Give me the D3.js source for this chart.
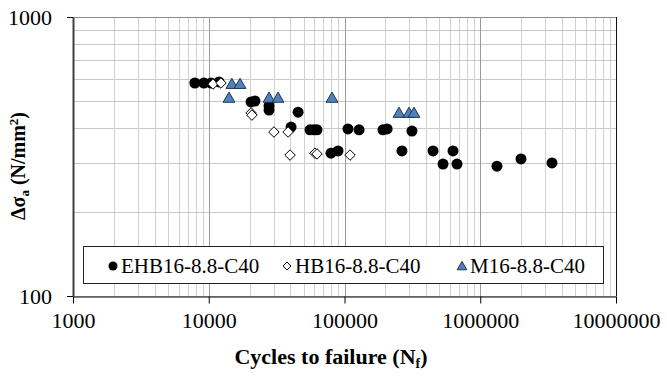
<!DOCTYPE html>
<html>
<head>
<meta charset="utf-8">
<script src="https://cdnjs.cloudflare.com/ajax/libs/d3/7.8.5/d3.min.js"></script>
<style>
  body { margin: 0; background: #fff; }
  svg text { font-family: "Times New Roman", "Liberation Serif", Times, "DejaVu Serif", serif !important; }
</style>
</head>
<body>
<div id="chart"></div>
<script>
// cycles to failure, stress range (N/mm2)
const ehbCycles = [7900, 9200, 10400, 11900, 20500, 21900, 27800, 27800, 45500, 40400,
    55700, 59600, 62700, 79500, 89600, 106000, 128000, 192000, 206000, 314000,
    265000, 449000, 630000, 532000, 674000, 1328000, 1996000, 3377000];
const ehbStress = [580, 580, 580, 585, 496, 500, 480, 464, 456, 403,
    394, 394, 394, 325, 331, 397, 394, 394, 397, 390,
    331, 331, 331, 297, 297, 292, 310, 300];

const hbCycles = [10750, 12300, 20500, 20800, 30200, 38400, 39700, 60600, 62700, 109800];
const hbStress = [575, 580, 453, 445, 387, 387, 320, 325, 323, 320];

const mCycles = [14100, 14800, 17000, 27800, 32400, 80900, 252000, 298700, 325100];
const mStress = [513, 575, 575, 513, 513, 513, 453, 453, 453];

const xTickValues = [1e3, 1e4, 1e5, 1e6, 1e7];
const yTickValues = [100, 1000];
const seriesNames = ['EHB16-8.8-C40', 'HB16-8.8-C40', 'M16-8.8-C40'];

const width = 667, height = 378;
const plotLeft = 73, plotRight = 616, plotTop = 17, plotBottom = 296;

const svg = d3.select('#chart').append('svg')
    .attr('width', width)
    .attr('height', height);

const x = d3.scaleLog().domain([1e3, 1e7]).range([plotLeft, plotRight]);
const y = d3.scaleLog().domain([100, 1000]).range([plotBottom, plotTop]);

// minor vertical grid
const minorX = x.ticks().filter(d => !xTickValues.includes(d));
svg.append('g').selectAll('line')
    .data(minorX)
    .join('line')
    .attr('x1', d => Math.round(x(d)) + 0.5).attr('x2', d => Math.round(x(d)) + 0.5)
    .attr('y1', plotTop).attr('y2', plotBottom)
    .attr('stroke', '#d0d0d0');

// horizontal grid
svg.append('g').selectAll('line')
    .data(y.ticks())
    .join('line')
    .attr('x1', plotLeft).attr('x2', plotRight)
    .attr('y1', d => Math.round(y(d)) + 0.5).attr('y2', d => Math.round(y(d)) + 0.5)
    .attr('stroke', d => d === 1000 ? '#8c8c8c' : '#c8c8c8');

// decade vertical grid
svg.append('g').selectAll('line')
    .data(xTickValues.slice(1, -1))
    .join('line')
    .attr('x1', d => Math.round(x(d)) + 0.5).attr('x2', d => Math.round(x(d)) + 0.5)
    .attr('y1', plotTop).attr('y2', plotBottom)
    .attr('stroke', '#9a9a9a');

// right border
svg.append('line')
    .attr('x1', plotRight + 0.5).attr('x2', plotRight + 0.5)
    .attr('y1', plotTop).attr('y2', plotBottom)
    .attr('stroke', '#111');

// x axis
const xAxis = svg.append('g')
    .attr('transform', `translate(0,${plotBottom + 0.5})`)
    .call(d3.axisBottom(x).tickValues(xTickValues).tickFormat(d3.format('d'))
        .tickSize(7).tickSizeOuter(0).tickPadding(9));
xAxis.attr('font-family', null).attr('font-size', null);
xAxis.select('.domain').attr('stroke', '#000');
xAxis.selectAll('.tick line').attr('stroke', '#000');
xAxis.selectAll('text')
    .attr('fill', '#000')
    .style('font-size', '22px');

// y axis
const yAxis = svg.append('g')
    .attr('transform', `translate(${plotLeft},0)`)
    .call(d3.axisLeft(y).tickValues(yTickValues).tickFormat(d3.format('d'))
        .tickSize(6).tickSizeOuter(0).tickPadding(15));
yAxis.attr('font-family', null).attr('font-size', null);
yAxis.select('.domain').attr('stroke', '#404040').attr('stroke-width', 2);
yAxis.selectAll('.tick line').attr('stroke', '#000');
yAxis.selectAll('text')
    .attr('fill', '#000')
    .style('font-size', '22px');

// axis titles
const xTitle = svg.append('text')
    .attr('x', 331).attr('y', 364)
    .attr('text-anchor', 'middle')
    .style('font-size', '22px').style('font-weight', 'bold');
xTitle.append('tspan').text('Cycles to failure (N');
xTitle.append('tspan').attr('dy', 4).style('font-size', '14px').text('f');
xTitle.append('tspan').attr('dy', -4).text(')');

const yTitle = svg.append('text')
    .attr('transform', 'translate(25,166) rotate(-90)')
    .attr('text-anchor', 'middle')
    .style('font-size', '20px').style('font-weight', 'bold');
yTitle.append('tspan').text('Δσ');
yTitle.append('tspan').attr('dy', 4).style('font-size', '13px').text('a');
yTitle.append('tspan').attr('dy', -4).text(' (N/mm');
yTitle.append('tspan').attr('dy', -7).style('font-size', '13px').text('2');
yTitle.append('tspan').attr('dy', 7).text(')');

// markers
const diamond = d3.symbol().type(d3.symbolDiamond2);
const triangle = d3.symbol().type(d3.symbolTriangle);

const plot = svg.append('g');

plot.selectAll('circle.ehb')
    .data(d3.zip(ehbCycles, ehbStress))
    .join('circle')
    .attr('class', 'ehb')
    .attr('cx', d => x(d[0])).attr('cy', d => y(d[1]))
    .attr('r', 5.5)
    .attr('fill', '#000');

plot.selectAll('path.hb')
    .data(d3.zip(hbCycles, hbStress))
    .join('path')
    .attr('class', 'hb')
    .attr('d', diamond.size(70)())
    .attr('transform', d => `translate(${x(d[0])},${y(d[1])})`)
    .attr('fill', '#fff').attr('stroke', '#000').attr('stroke-width', 1);

plot.selectAll('path.m')
    .data(d3.zip(mCycles, mStress))
    .join('path')
    .attr('class', 'm')
    .attr('d', triangle.size(60)())
    .attr('transform', d => `translate(${x(d[0])},${y(d[1]) + 1})`)
    .attr('fill', '#4f81bd').attr('stroke', '#1f3550').attr('stroke-width', 1);

// legend
const legend = svg.append('g');
legend.append('rect')
    .attr('x', 83.5).attr('y', 246.5)
    .attr('width', 520).attr('height', 37)
    .attr('fill', '#fff').attr('stroke', '#222');

const legendX = [113, 287, 462];
const legendY = 266;
legend.append('circle').attr('cx', legendX[0]).attr('cy', legendY).attr('r', 4.5).attr('fill', '#000');
legend.append('path').attr('d', diamond.size(40)())
    .attr('transform', `translate(${legendX[1]},${legendY})`)
    .attr('fill', '#fff').attr('stroke', '#000');
legend.append('path').attr('d', triangle.size(40)())
    .attr('transform', `translate(${legendX[2]},${legendY + 1})`)
    .attr('fill', '#4f81bd').attr('stroke', '#1f3550');

legend.selectAll('text.lbl')
    .data(seriesNames)
    .join('text')
    .attr('class', 'lbl')
    .attr('x', (d, i) => legendX[i] + 8)
    .attr('y', legendY + 7)
    .style('font-size', '21px')
    .text(d => d);
</script>
</body>
</html>
